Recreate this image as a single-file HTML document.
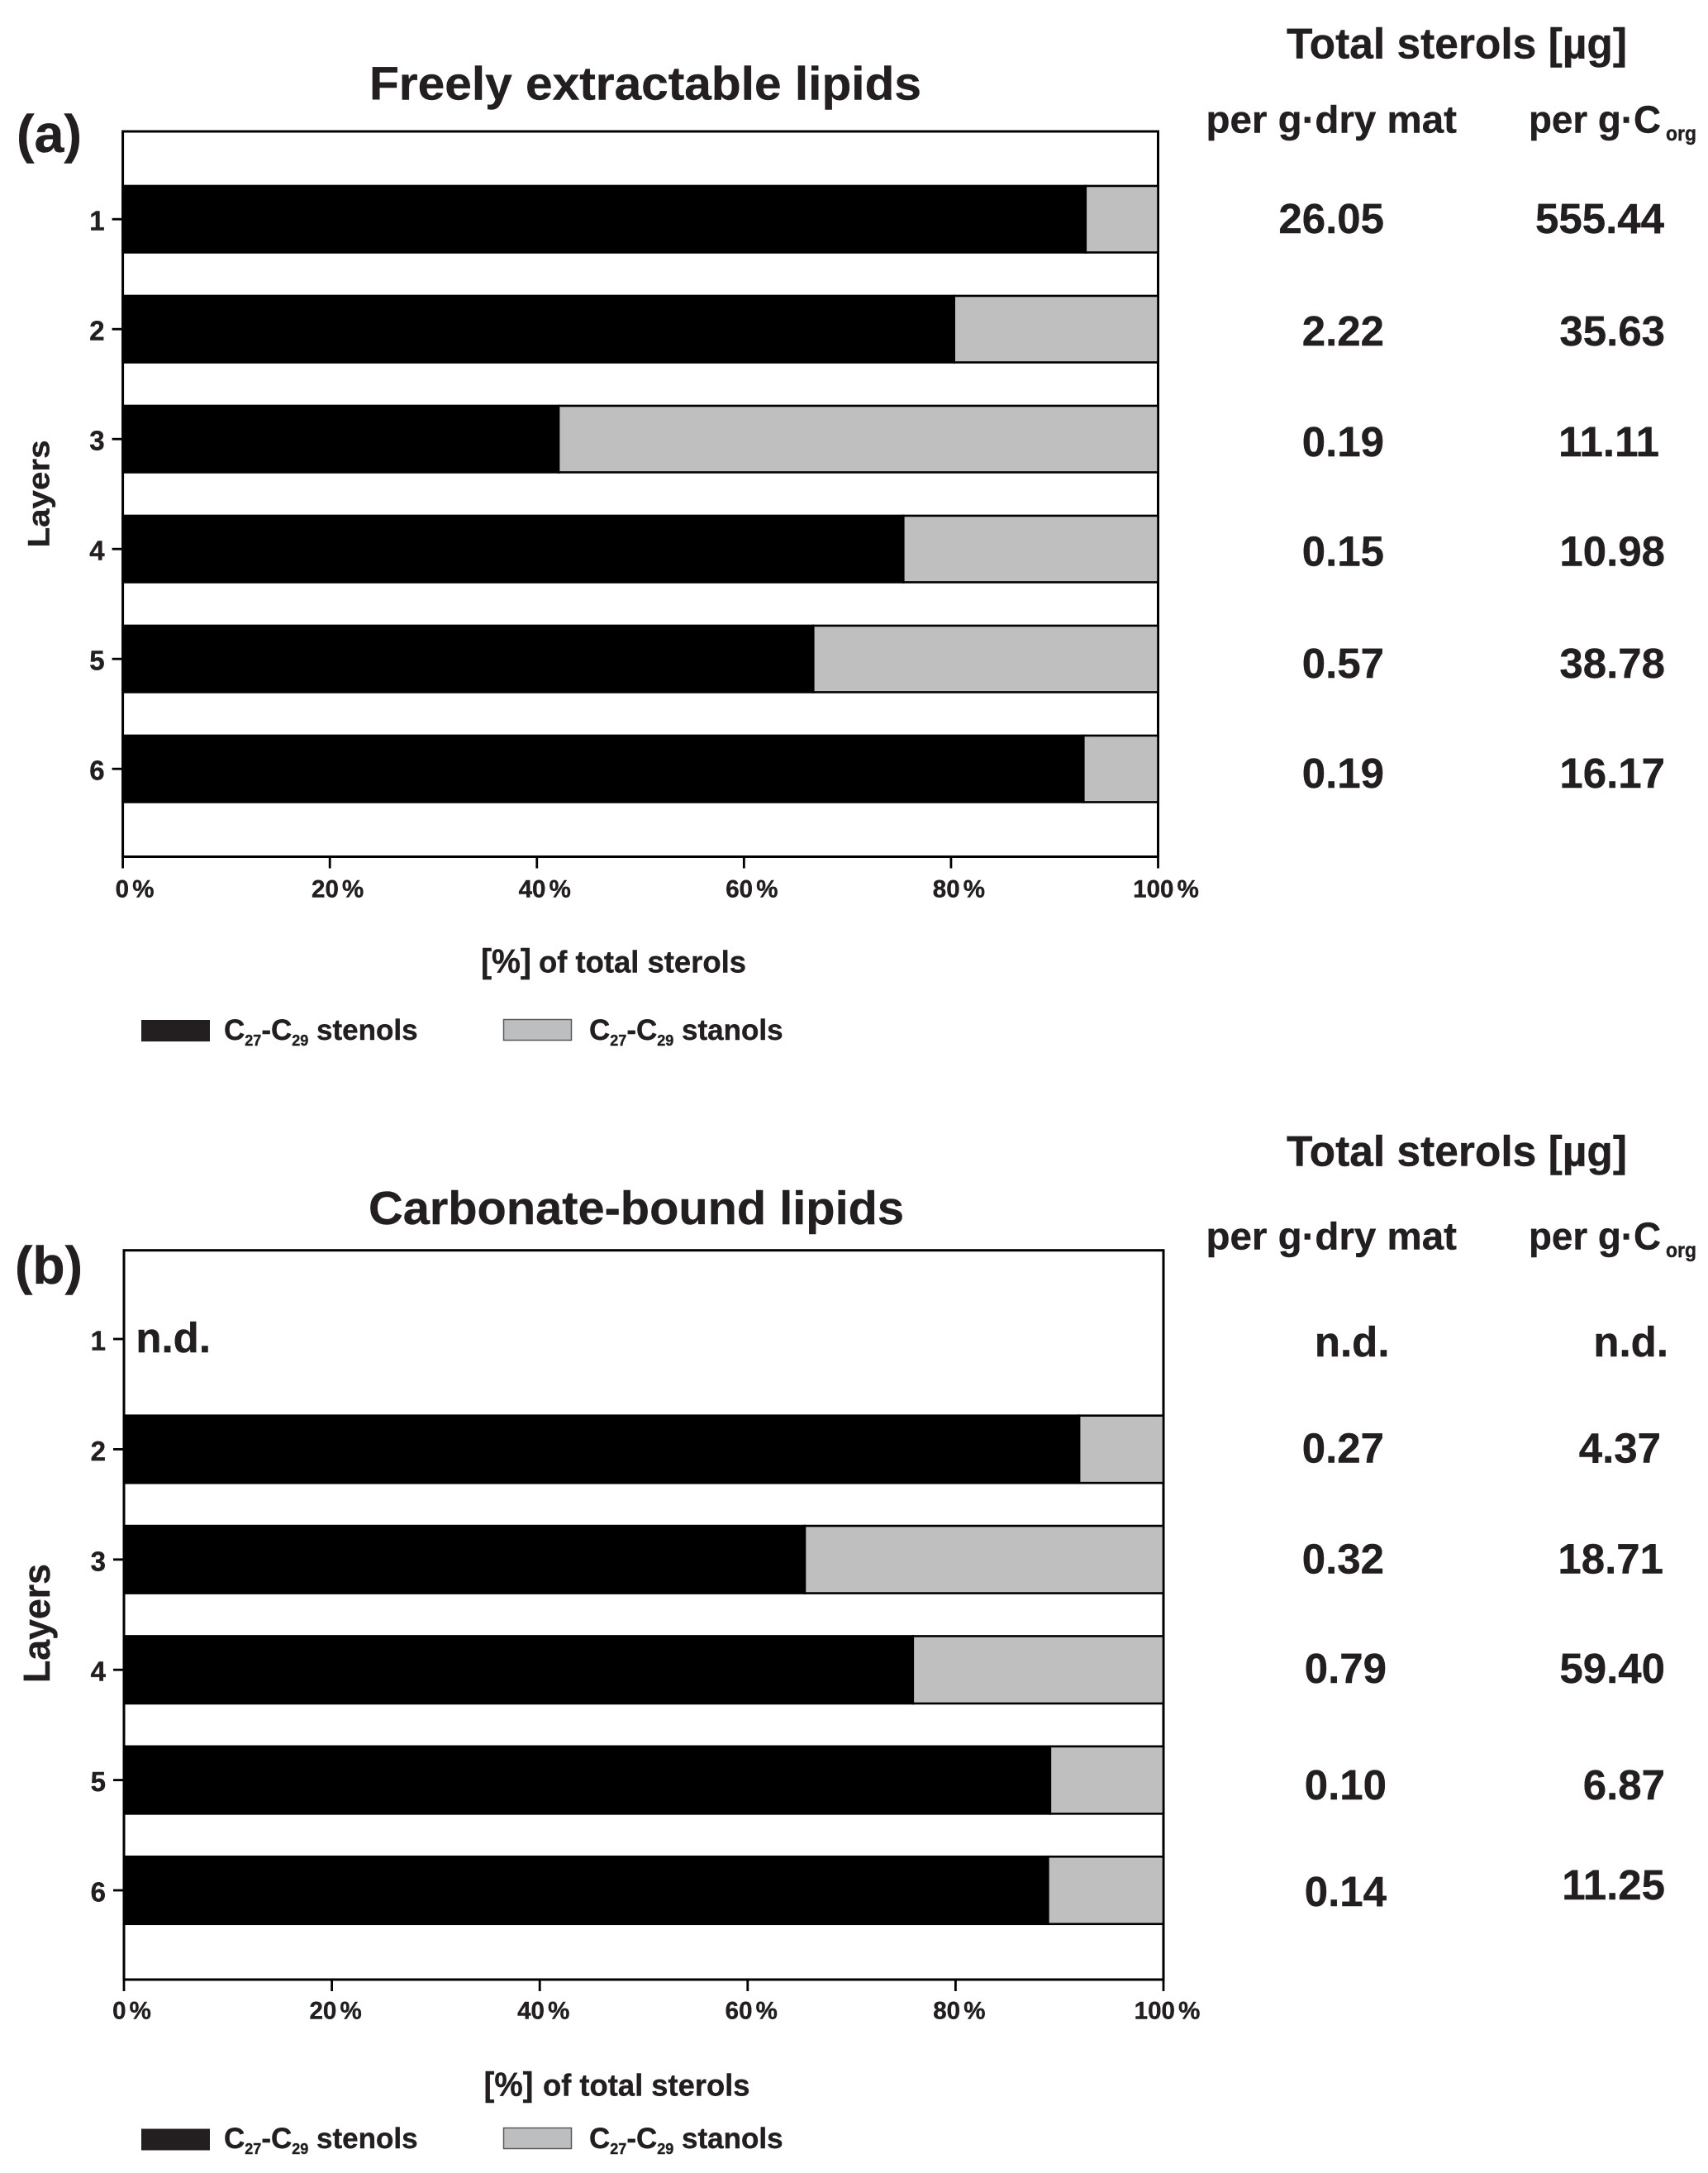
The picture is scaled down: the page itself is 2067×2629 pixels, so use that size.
<!DOCTYPE html>
<html lang="en">
<head>
<meta charset="utf-8">
<title>Sterol composition of freely extractable and carbonate-bound lipids</title>
<style>
html,body{margin:0;padding:0;background:#fff;}
svg{display:block;}
text{font-family:"Liberation Sans",Arial,sans-serif;font-weight:bold;fill:#231f20;stroke:#231f20;stroke-width:0.4px;}
.val{font-size:51px;text-anchor:end;}
.hdr{font-size:52px;}
.sub{font-size:46px;}
.leg{font-size:35px;}
.xt{font-size:37px;}
</style>
</head>
<body>
<svg id="fig" xmlns="http://www.w3.org/2000/svg" width="2067" height="2629" viewBox="0 0 2067 2629">
  <rect x="0" y="0" width="2067" height="2629" fill="#fff"/>

  <!-- Panel (a) static text -->
  <text x="20" y="184" font-size="64" textLength="79" lengthAdjust="spacingAndGlyphs">(a)</text>
  <text x="447" y="120.5" font-size="57" textLength="668" lengthAdjust="spacingAndGlyphs">Freely extractable lipids</text>
  <text transform="translate(59.5,662.5) rotate(-90)" font-size="37" textLength="130" lengthAdjust="spacingAndGlyphs">Layers</text>
  <text x="582" y="1176.5" font-size="41" textLength="61" lengthAdjust="spacingAndGlyphs">[%]</text>
  <text class="xt" x="652" y="1176.5" textLength="251" lengthAdjust="spacingAndGlyphs">of total sterols</text>
  <rect x="171" y="1234" width="83" height="26" fill="#231f20"/>
  <text class="leg" x="271" y="1258">C<tspan font-size="18" dy="7">27</tspan><tspan dy="-7">-C</tspan><tspan font-size="18" dy="7">29</tspan><tspan dy="-7"> stenols</tspan></text>
  <rect x="609.5" y="1233.5" width="82" height="25" fill="#bcbec0" stroke="#58595b" stroke-width="1.5"/>
  <text class="leg" x="713" y="1258">C<tspan font-size="18" dy="7">27</tspan><tspan dy="-7">-C</tspan><tspan font-size="18" dy="7">29</tspan><tspan dy="-7"> stanols</tspan></text>

  <!-- Panel (a) side table -->
  <text class="hdr" x="1557" y="70.5" textLength="412" lengthAdjust="spacingAndGlyphs">Total sterols [µg]</text>
  <text class="sub" x="1459.5" y="160.5" textLength="303.5" lengthAdjust="spacingAndGlyphs">per g·dry mat</text>
  <text class="sub" x="1850" y="160.5" textLength="160" lengthAdjust="spacingAndGlyphs">per g·C</text>
  <text x="2016" y="170" font-size="25" textLength="37" lengthAdjust="spacingAndGlyphs">org</text>
  <text class="val" x="1675" y="282">26.05</text>
  <text class="val" x="1675" y="418">2.22</text>
  <text class="val" x="1675" y="552">0.19</text>
  <text class="val" x="1675" y="684.5">0.15</text>
  <text class="val" x="1675" y="820">0.57</text>
  <text class="val" x="1675" y="953">0.19</text>
  <text class="val" x="2014" y="282">555.44</text>
  <text class="val" x="2015" y="418">35.63</text>
  <text class="val" x="2008" y="552">11.11</text>
  <text class="val" x="2015" y="684.5">10.98</text>
  <text class="val" x="2015" y="820">38.78</text>
  <text class="val" x="2015" y="953">16.17</text>

  <!-- Panel (b) static text -->
  <text x="18" y="1553" font-size="64" textLength="82" lengthAdjust="spacingAndGlyphs">(b)</text>
  <text x="446" y="1481" font-size="57" textLength="648" lengthAdjust="spacingAndGlyphs">Carbonate-bound lipids</text>
  <text transform="translate(60,2036) rotate(-90)" font-size="45" textLength="144" lengthAdjust="spacingAndGlyphs">Layers</text>
  <text x="585.5" y="2535.5" font-size="41" textLength="60" lengthAdjust="spacingAndGlyphs">[%]</text>
  <text class="xt" x="657" y="2535.5" textLength="250.5" lengthAdjust="spacingAndGlyphs">of total sterols</text>
  <rect x="171" y="2575.5" width="83" height="26" fill="#231f20"/>
  <text class="leg" x="271" y="2599">C<tspan font-size="18" dy="7">27</tspan><tspan dy="-7">-C</tspan><tspan font-size="18" dy="7">29</tspan><tspan dy="-7"> stenols</tspan></text>
  <rect x="609.5" y="2574.5" width="82" height="25" fill="#bcbec0" stroke="#58595b" stroke-width="1.5"/>
  <text class="leg" x="713" y="2599">C<tspan font-size="18" dy="7">27</tspan><tspan dy="-7">-C</tspan><tspan font-size="18" dy="7">29</tspan><tspan dy="-7"> stanols</tspan></text>

  <!-- Panel (b) side table -->
  <text class="hdr" x="1557" y="1410.5" textLength="412" lengthAdjust="spacingAndGlyphs">Total sterols [µg]</text>
  <text class="sub" x="1459.5" y="1511.5" textLength="303.5" lengthAdjust="spacingAndGlyphs">per g·dry mat</text>
  <text class="sub" x="1850" y="1511.5" textLength="160" lengthAdjust="spacingAndGlyphs">per g·C</text>
  <text x="2016" y="1521" font-size="25" textLength="37" lengthAdjust="spacingAndGlyphs">org</text>
  <text class="val" x="1681.5" y="1641">n.d.</text>
  <text class="val" x="1675" y="1769.5">0.27</text>
  <text class="val" x="1675" y="1903.5">0.32</text>
  <text class="val" x="1678" y="2036">0.79</text>
  <text class="val" x="1678" y="2177">0.10</text>
  <text class="val" x="1678" y="2306">0.14</text>
  <text class="val" x="2019" y="1641">n.d.</text>
  <text class="val" x="2010" y="1769.5">4.37</text>
  <text class="val" x="2013" y="1903.5">18.71</text>
  <text class="val" x="2015" y="2036">59.40</text>
  <text class="val" x="2015" y="2177">6.87</text>
  <text class="val" x="2015" y="2298">11.25</text>

  <g id="panel-a"></g>
  <g id="panel-b"></g>

  <text class="val" x="255" y="1636">n.d.</text>
</svg>

<script>
// Chart data (percent of total sterols per layer; null = not detected)
var layers = ['1', '2', '3', '4', '5', '6'];
var stenolsA = [93.0, 80.3, 42.1, 75.4, 66.7, 92.8];
var stanolsA = [7.0, 19.7, 57.9, 24.6, 33.3, 7.2];
var stenolsB = [null, 91.9, 65.5, 75.9, 89.1, 88.9];
var stanolsB = [null, 8.1, 34.5, 24.1, 10.9, 11.1];
var xTickValues = [0, 20, 40, 60, 80, 100];
var xTickLabels = ['0 %', '20 %', '40 %', '60 %', '80 %', '100 %'];

var NS = 'http://www.w3.org/2000/svg';

function make(parent, tag, attrs, text) {
  var el = document.createElementNS(NS, tag);
  for (var k in attrs) { el.setAttribute(k, attrs[k]); }
  if (text !== undefined) { el.textContent = text; }
  parent.appendChild(el);
  return el;
}

function drawPanel(id, prefix, stenols, stanols, g) {
  var root = document.getElementById(id);
  function xScale(v) { return g.left + (v / 100) * (g.right - g.left); }
  function yScale(i) { return g.firstCenter + i * g.band; }

  var frame = make(root, 'rect', {x: g.left, y: g.top, width: g.right - g.left, height: g.bottom - g.top, fill: '#fff', stroke: '#000', 'stroke-width': 3});
  
  

  layers.forEach(function (layer, i) {
    var cy = yScale(i);
    var tick = make(root, 'line', {x1: g.left - 13, x2: g.left, y1: cy, y2: cy, stroke: '#000', 'stroke-width': 2.8});
    
    

    var lab = make(root, 'text', {x: g.left - 22, y: cy + 13.5, 'font-size': 33, 'text-anchor': 'end'}, layer);
    
    

    if (stenols[i] === null) { return; }
    var y0 = cy - g.barHeight / 2;

    var dark = make(root, 'rect', {x: xScale(0), y: y0, width: xScale(stenols[i]) - xScale(0), height: g.barHeight, fill: '#000', stroke: '#000', 'stroke-width': 2.6});
    
    

    var light = make(root, 'rect', {x: xScale(stenols[i]), y: y0, width: xScale(stenols[i] + stanols[i]) - xScale(stenols[i]), height: g.barHeight, fill: '#bfbfbf', stroke: '#000', 'stroke-width': 2.6});
    
    
  });

  xTickValues.forEach(function (v, i) {
    var x = xScale(v);
    var tick = make(root, 'line', {x1: x, x2: x, y1: g.bottom, y2: g.bottom + 14, stroke: '#000', 'stroke-width': 2.8});
    
    

    var nudge = (i === 0) ? g.labelOffset + 5 : g.labelOffset;
    var lab = make(root, 'text', {x: x + nudge, y: g.labelY, 'font-size': 29.5, 'text-anchor': 'middle', 'word-spacing': -4}, xTickLabels[i]);
    
    
  });
}

drawPanel('panel-a', 'panel-a', stenolsA, stanolsA, {
  left: 148.6, right: 1401.5, top: 159, bottom: 1036.5,
  firstCenter: 265.2, band: 133, barHeight: 80.5, labelOffset: 9.5, labelY: 1085.5
});
drawPanel('panel-b', 'panel-b', stenolsB, stanolsB, {
  left: 150, right: 1408, top: 1512.7, bottom: 2395,
  firstCenter: 1620, band: 133.4, barHeight: 81.5, labelOffset: 4.5, labelY: 2442.5
});
</script>
</body>
</html>
